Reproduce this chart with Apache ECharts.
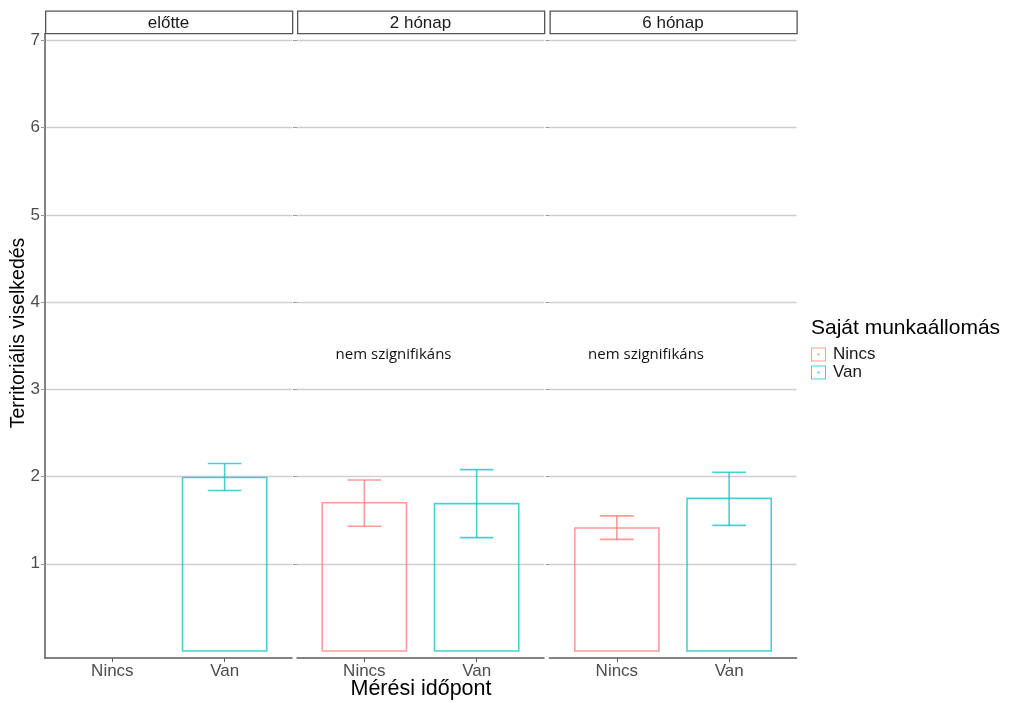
<!DOCTYPE html>
<html>
<head>
<meta charset="utf-8">
<script src="https://cdn.jsdelivr.net/npm/echarts@6/dist/echarts.min.js"></script>
<style>
  html, body { margin: 0; padding: 0; background: #fff; }
  #chart { width: 1014px; height: 703px; }
</style>
</head>
<body>
<div id="chart"></div>
<script>
// Facets (measurement time) and groups (own workstation)
const panels = ['előtte', '2 hónap', '6 hónap'];
const groups = ['Nincs', 'Van'];

// Mean and confidence interval per facet; null = no data
const nincsMean = [null, 1.70, 1.41];
const nincsLow  = [null, 1.43, 1.28];
const nincsHigh = [null, 1.96, 1.55];
const vanMean   = [1.99, 1.69, 1.75];
const vanLow    = [1.84, 1.30, 1.44];
const vanHigh   = [2.15, 2.08, 2.05];

const yTicks = [1, 2, 3, 4, 5, 6, 7];
const notes = [null, 'nem szignifikáns', 'nem szignifikáns'];

// Styling / layout
const COLORS = { Nincs: 'rgba(248,118,109,0.72)', Van: 'rgba(0,191,196,0.72)' };
const BAR_W = 0.75, CAP_W = 0.3;
const NOTE_X = 1.26, NOTE_Y = 3.4;
const FONT = '"Liberation Sans", Arial, sans-serif';
const gridLefts = [45, 297, 549.5];
const GRID_W = 247, GRID_TOP = 33.5, GRID_H = 624.5;

const chart = echarts.init(document.getElementById('chart'));

const grids = [], xAxes = [], yAxes = [], series = [], graphics = [];

panels.forEach((p, i) => {
  grids.push({ left: gridLefts[i], top: GRID_TOP, width: GRID_W, height: GRID_H, containLabel: false });
  xAxes.push({
    type: 'value', gridIndex: i, min: 0.4, max: 2.6,
    axisLine: { show: true, onZero: false, lineStyle: { color: '#5a5a5a', width: 1.5 } },
    axisTick: { show: true, length: 4, lineStyle: { color: '#5a5a5a' }, customValues: [1, 2] },
    axisLabel: {
      customValues: [1, 2], formatter: v => groups[Math.round(v) - 1] || '',
      fontSize: 17, color: '#4d4d4d', fontFamily: FONT, margin: 5
    },
    splitLine: { show: false }
  });
  yAxes.push({
    type: 'value', gridIndex: i, min: -0.08, max: 7.08,
    axisLine: { show: i === 0, onZero: false, lineStyle: { color: '#5a5a5a', width: 1.5 } },
    axisTick: { show: true, length: 4, lineStyle: { color: '#9a9a9a' }, customValues: yTicks },
    axisLabel: {
      show: i === 0, customValues: yTicks,
      fontSize: 17, color: '#4d4d4d', fontFamily: FONT, margin: 5
    },
    splitLine: { show: true, lineStyle: { color: '#cfcfcf', width: 1.3 } }
  });

  // strip header
  graphics.push({
    type: 'rect', left: gridLefts[i], top: 10.5, silent: true,
    shape: { width: GRID_W, height: 22.5 },
    style: { fill: '#fff', stroke: '#555', lineWidth: 1.3 }
  });
  graphics.push({
    type: 'text', x: gridLefts[i] + GRID_W / 2, y: 23, silent: true,
    style: { text: p, fill: '#1a1a1a', font: '17px ' + FONT, align: 'center', verticalAlign: 'middle' }
  });

  // bars with error bars
  const byGroup = {
    Nincs: [nincsMean[i], nincsLow[i], nincsHigh[i]],
    Van: [vanMean[i], vanLow[i], vanHigh[i]]
  };
  groups.forEach((g, gi) => {
    const [m, lo, hi] = byGroup[g];
    const color = COLORS[g];
    series.push({
      type: 'custom', name: g, xAxisIndex: i, yAxisIndex: i,
      itemStyle: { color: color },
      data: m == null ? [] : [[gi + 1, m, lo, hi]],
      renderItem: (params, api) => {
        const x = api.value(0);
        const base = api.coord([x, 0]);
        const top = api.coord([x, api.value(1)]);
        const pLo = api.coord([x, api.value(2)]);
        const pHi = api.coord([x, api.value(3)]);
        const w = api.size([BAR_W, 0])[0];
        const cw = api.size([CAP_W, 0])[0];
        const st = { stroke: color, lineWidth: 1.6, fill: null };
        return {
          type: 'group', children: [
            { type: 'rect', shape: { x: base[0] - w / 2, y: top[1], width: w, height: base[1] - top[1] }, style: { fill: 'none', stroke: color, lineWidth: 1.6 } },
            { type: 'line', shape: { x1: pHi[0], y1: pHi[1], x2: pLo[0], y2: pLo[1] }, style: st },
            { type: 'line', shape: { x1: pHi[0] - cw / 2, y1: pHi[1], x2: pHi[0] + cw / 2, y2: pHi[1] }, style: st },
            { type: 'line', shape: { x1: pLo[0] - cw / 2, y1: pLo[1], x2: pLo[0] + cw / 2, y2: pLo[1] }, style: st }
          ]
        };
      }
    });
  });

  // significance note
  if (notes[i]) {
    series.push({
      type: 'custom', xAxisIndex: i, yAxisIndex: i, silent: true,
      data: [[NOTE_X, NOTE_Y, notes[i]]],
      renderItem: (params, api) => {
        const pt = api.coord([api.value(0), api.value(1)]);
        return {
          type: 'text', x: pt[0], y: pt[1],
          style: { text: notes[i], fill: '#111', font: '15px "Open Sans", "Noto Sans", sans-serif', align: 'center', verticalAlign: 'middle' }
        };
      }
    });
  }
});

// axis titles
graphics.push({
  type: 'text', x: 19, y: 333, rotation: Math.PI / 2, silent: true,
  style: { text: 'Territoriális viselkedés', fill: '#000', font: '19.5px ' + FONT, align: 'center', verticalAlign: 'middle' }
});
graphics.push({
  type: 'text', x: 421, y: 689, silent: true,
  style: { text: 'Mérési időpont', fill: '#000', font: '21.5px ' + FONT, align: 'center', verticalAlign: 'middle' }
});

chart.setOption({
  animation: false,
  backgroundColor: '#fff',
  title: {
    text: 'Saját munkaállomás', left: 806, top: 313,
    textStyle: { fontSize: 21, fontWeight: 'normal', color: '#000', fontFamily: FONT }
  },
  legend: {
    data: groups, orient: 'vertical', left: 806, top: 341,
    itemWidth: 15, itemHeight: 14, itemGap: 1,
    icon: 'path://M0,0H15V14H0Z M1,1V13H14V1Z M6.5,6H8.5V8H6.5Z',
    textStyle: { fontSize: 17, lineHeight: 15, color: '#1a1a1a', fontFamily: FONT, padding: [0, 0, 0, 2] },
    selectedMode: false
  },
  grid: grids,
  xAxis: xAxes,
  yAxis: yAxes,
  series: series,
  graphic: graphics
});
</script>
</body>
</html>
